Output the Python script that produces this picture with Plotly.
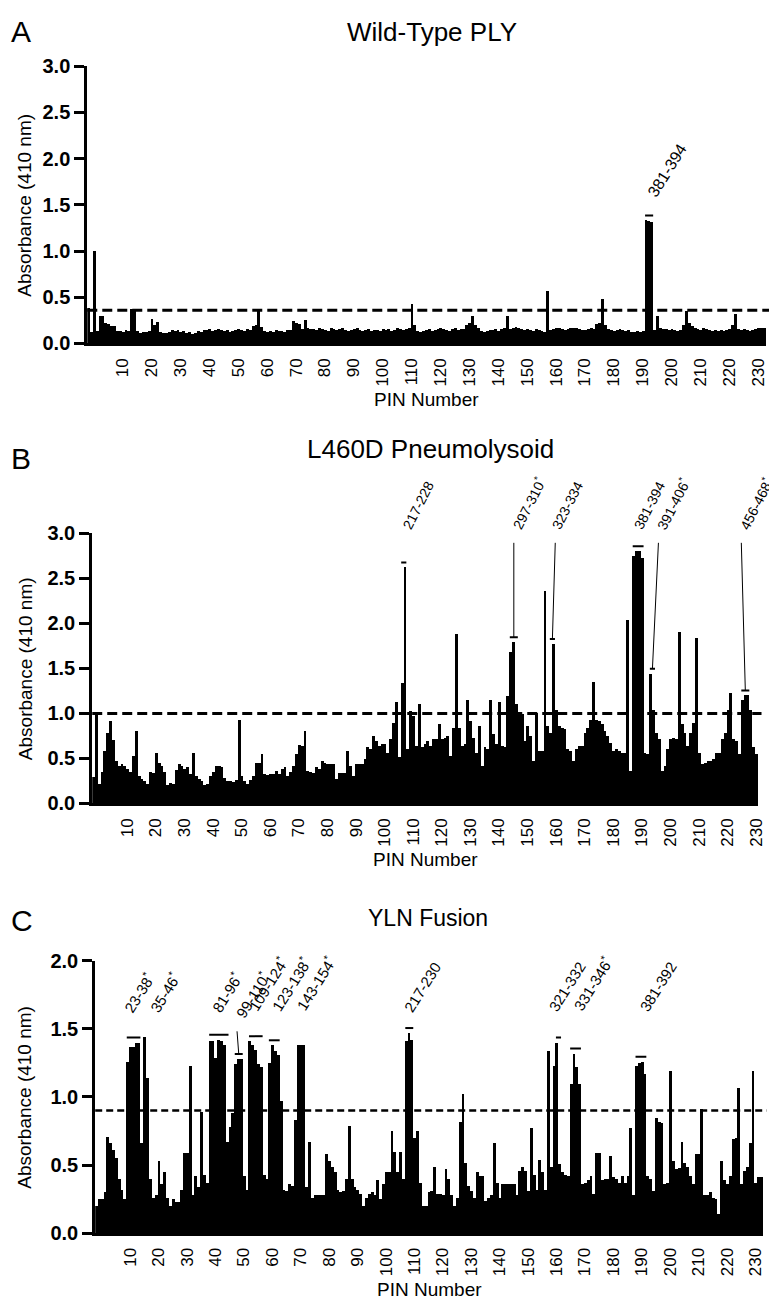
import plotly.graph_objects as go

W, H = 777, 1300
FONT = "Liberation Sans, Arial, sans-serif"

# ---------------- data ----------------
# absorbance (410 nm) per PIN, panel A: wild-type PLY
wild_type = [
    0.38, 0.12, 1.00, 0.13, 0.30, 0.29, 0.22, 0.21, 0.19, 0.19,
    0.13, 0.13, 0.12, 0.14, 0.13, 0.37, 0.36, 0.13, 0.11, 0.12,
    0.12, 0.13, 0.26, 0.20, 0.23, 0.12, 0.11, 0.11, 0.12, 0.14,
    0.13, 0.14, 0.12, 0.13, 0.11, 0.12, 0.10, 0.11, 0.13, 0.12,
    0.14, 0.14, 0.15, 0.13, 0.14, 0.15, 0.14, 0.13, 0.14, 0.12,
    0.13, 0.14, 0.15, 0.14, 0.13, 0.15, 0.14, 0.19, 0.20, 0.36,
    0.18, 0.13, 0.12, 0.13, 0.12, 0.14, 0.13, 0.13, 0.12, 0.14,
    0.14, 0.24, 0.22, 0.21, 0.15, 0.25, 0.16, 0.15, 0.15, 0.14,
    0.16, 0.15, 0.14, 0.13, 0.17, 0.15, 0.14, 0.15, 0.16, 0.14,
    0.13, 0.14, 0.15, 0.16, 0.14, 0.13, 0.14, 0.15, 0.13, 0.14,
    0.14, 0.13, 0.15, 0.14, 0.15, 0.13, 0.14, 0.16, 0.15, 0.14,
    0.15, 0.17, 0.42, 0.20, 0.13, 0.12, 0.13, 0.14, 0.15, 0.13,
    0.14, 0.15, 0.16, 0.15, 0.14, 0.13, 0.15, 0.16, 0.14, 0.15,
    0.15, 0.20, 0.22, 0.30, 0.20, 0.16, 0.13, 0.12, 0.13, 0.14,
    0.14, 0.15, 0.13, 0.15, 0.16, 0.29, 0.15, 0.16, 0.18, 0.16,
    0.15, 0.14, 0.15, 0.14, 0.13, 0.15, 0.14, 0.13, 0.12, 0.57,
    0.14, 0.15, 0.16, 0.17, 0.15, 0.14, 0.15, 0.16, 0.17, 0.16,
    0.15, 0.14, 0.14, 0.15, 0.16, 0.15, 0.21, 0.22, 0.48, 0.20,
    0.15, 0.14, 0.13, 0.14, 0.15, 0.14, 0.13, 0.14, 0.12, 0.12,
    0.13, 0.12, 0.13, 1.33, 1.32, 1.31, 0.14, 0.30, 0.16, 0.15,
    0.15, 0.14, 0.15, 0.14, 0.13, 0.14, 0.20, 0.35, 0.22, 0.19,
    0.16, 0.15, 0.14, 0.16, 0.15, 0.14, 0.13, 0.14, 0.13, 0.14,
    0.13, 0.14, 0.15, 0.20, 0.32, 0.15, 0.14, 0.15, 0.14, 0.13,
    0.14, 0.15, 0.16, 0.17, 0.16,
]

# panel B: L460D pneumolysoid
l460d = [
    0.29, 1.00, 0.22, 0.35, 0.58, 0.78, 0.91, 0.70, 0.47, 0.42,
    0.44, 0.42, 0.38, 0.35, 0.52, 0.80, 0.30, 0.27, 0.25, 0.22,
    0.35, 0.34, 0.56, 0.45, 0.42, 0.35, 0.20, 0.23, 0.22, 0.37,
    0.44, 0.42, 0.38, 0.40, 0.33, 0.56, 0.30, 0.27, 0.25, 0.20,
    0.22, 0.30, 0.35, 0.42, 0.41, 0.40, 0.28, 0.25, 0.25, 0.24,
    0.26, 0.93, 0.30, 0.25, 0.22, 0.26, 0.30, 0.45, 0.45, 0.55,
    0.33, 0.32, 0.33, 0.33, 0.36, 0.33, 0.38, 0.40, 0.30, 0.35,
    0.42, 0.55, 0.65, 0.64, 0.80, 0.36, 0.35, 0.34, 0.40, 0.38,
    0.47, 0.45, 0.44, 0.44, 0.44, 0.27, 0.34, 0.34, 0.34, 0.58,
    0.42, 0.30, 0.44, 0.44, 0.44, 0.49, 0.62, 0.60, 0.75, 0.69,
    0.64, 0.66, 0.66, 0.56, 0.71, 0.89, 1.13, 0.51, 1.33, 2.62,
    0.60, 1.02, 0.97, 0.64, 1.10, 0.62, 0.66, 0.69, 0.64, 0.71,
    0.71, 0.88, 0.71, 0.73, 0.75, 0.53, 0.84, 1.88, 0.84, 0.64,
    0.66, 1.15, 0.91, 0.73, 0.56, 0.86, 0.42, 0.62, 0.60, 1.15,
    0.77, 0.66, 1.13, 0.64, 0.62, 1.19, 1.68, 1.79, 1.10, 0.99,
    0.99, 0.69, 0.86, 0.75, 0.47, 1.00, 0.58, 0.58, 2.36, 0.86,
    0.78, 1.77, 1.04, 0.86, 0.84, 0.82, 0.60, 0.58, 0.47, 0.60,
    0.64, 0.64, 0.78, 0.84, 0.93, 1.35, 0.93, 0.91, 0.88, 0.80,
    0.75, 0.67, 0.58, 0.60, 0.58, 0.56, 0.56, 2.03, 0.36, 2.74,
    2.80, 2.80, 2.72, 0.56, 0.55, 1.44, 1.04, 0.78, 0.71, 0.36,
    0.42, 0.60, 0.71, 0.73, 0.71, 1.90, 0.88, 0.78, 0.64, 0.78,
    0.89, 1.83, 0.56, 0.44, 0.45, 0.47, 0.47, 0.49, 0.56, 0.56,
    0.71, 0.78, 1.04, 1.22, 0.71, 0.69, 0.55, 1.15, 1.20, 1.20,
    1.04, 0.62, 0.55,
]

# panel C: YLN fusion
yln_fusion = [
    0.20, 0.25, 0.25, 0.30, 0.71, 0.66, 0.61, 0.55, 0.40, 0.32,
    0.25, 1.26, 1.37, 1.37, 1.40, 1.40, 0.66, 1.44, 1.14, 0.40,
    0.26, 0.28, 0.53, 0.36, 0.45, 0.26, 0.20, 0.25, 0.23, 0.23,
    0.32, 0.59, 0.59, 1.23, 0.28, 0.42, 0.34, 0.89, 0.43, 0.37,
    1.41, 1.41, 1.29, 1.42, 1.41, 1.38, 0.67, 0.78, 0.88, 1.24,
    1.28, 1.28, 0.42, 0.32, 1.41, 1.38, 1.35, 1.24, 1.22, 0.43,
    0.40, 1.25, 1.38, 1.34, 1.31, 0.97, 0.32, 0.31, 0.36, 0.35,
    0.83, 1.38, 1.38, 1.38, 0.34, 0.67, 0.26, 0.28, 0.28, 0.28,
    0.28, 0.58, 0.53, 0.49, 0.45, 0.32, 0.30, 0.31, 0.40, 0.79,
    0.40, 0.34, 0.32, 0.29, 0.20, 0.26, 0.29, 0.30, 0.28, 0.39,
    0.25, 0.36, 0.45, 0.45, 0.75, 0.60, 0.45, 0.60, 0.40, 1.41,
    1.47, 1.42, 0.70, 0.75, 0.37, 0.20, 0.20, 0.30, 0.31, 0.49,
    0.29, 0.29, 0.28, 0.47, 0.40, 0.28, 0.20, 0.26, 0.82, 1.02,
    0.52, 0.35, 0.31, 0.26, 0.45, 0.42, 0.42, 0.24, 0.26, 0.28,
    0.66, 0.37, 0.26, 0.36, 0.36, 0.36, 0.36, 0.36, 0.28, 0.46,
    0.49, 0.46, 0.31, 0.77, 0.43, 0.32, 0.54, 0.45, 0.32, 1.34,
    0.49, 1.23, 1.40, 0.51, 0.45, 0.43, 0.42, 1.10, 1.32, 1.22,
    1.10, 0.36, 0.37, 0.39, 0.42, 0.29, 0.59, 0.59, 0.39, 0.40,
    0.40, 0.57, 0.41, 0.40, 0.37, 0.42, 0.37, 0.42, 0.77, 0.28,
    1.23, 1.25, 1.26, 1.17, 0.42, 0.40, 0.31, 0.85, 0.82, 0.81,
    0.36, 0.37, 1.19, 0.53, 0.47, 0.48, 0.67, 0.52, 0.49, 0.42,
    0.36, 0.58, 0.58, 0.91, 0.28, 0.28, 0.30, 0.26, 0.25, 0.14,
    0.53, 0.39, 0.36, 0.42, 0.69, 0.70, 1.07, 0.36, 0.46, 0.49,
    0.66, 1.19, 0.37, 0.41, 0.41,
]

cutoff_wild_type = 0.36
cutoff_l460d = 1.0
cutoff_yln = 0.9

pin_ticks = list(range(10, 231, 10))

# (label, pin where the label starts, label base height, first pin, last pin, leader line)
peaks_wild_type = [("381-394", 195.5, 1.52, 194, 196, False)]
peaks_l460d = [
    ("217-228", 110.3, 2.98, 109, 110, False),
    ("297-310<sup>*</sup>", 148.0, 2.98, 147, 149, True),
    ("323-334", 162.5, 2.98, 161, 162, True),
    ("381-394", 191.2, 2.98, 190, 193, False),
    ("391-406<sup>*</sup>", 198.6, 2.98, 196, 197, True),
    ("456-468<sup>*</sup>", 227.6, 2.98, 228, 230, True),
]
peaks_yln = [
    ("23-38<sup>*</sup>", 11.1, 1.58, 12, 16, False),
    ("35-46<sup>*</sup>", 20.1, 1.58, None, None, False),
    ("81-96<sup>*</sup>", 41.9, 1.58, 41, 47, False),
    ("99-110<sup>*</sup>", 50.4, 1.54, 50, 52, True),
    ("109-124<sup>*</sup>", 55.0, 1.59, 55, 59, False),
    ("123-138<sup>*</sup>", 63.2, 1.59, 62, 65, False),
    ("143-154<sup>*</sup>", 71.7, 1.59, None, None, False),
    ("217-230", 110.1, 1.58, 110, 112, False),
    ("321-332", 161.0, 1.59, 163, 164, False),
    ("331-346<sup>*</sup>", 169.2, 1.59, 168, 171, False),
    ("381-392", 193.0, 1.59, 191, 194, False),
]

# ---------------- layout of the three panels (pixels) ----------------
panels = [
    dict(letter="A", title="Wild-Type PLY", values=wild_type, cutoff=cutoff_wild_type,
         peaks=peaks_wild_type, box=(80, 765, 48, 330), ymax=3.0,
         title_xy=(428, 13), title_size=26, letter_y=13, dash=("10px,5px", 3),
         label_angle=-58, label_size=16),
    dict(letter="B", title="L460D Pneumolysoid", values=l460d, cutoff=cutoff_l460d,
         peaks=peaks_l460d, box=(85, 757, 523, 798), ymax=3.0,
         title_xy=(426, 437), title_size=26, letter_y=447, dash=("10px,5px", 3),
         label_angle=-63, label_size=14),
    dict(letter="C", title="YLN Fusion", values=yln_fusion, cutoff=cutoff_yln,
         peaks=peaks_yln, box=(88, 762, 958, 1235), ymax=2.0,
         title_xy=(424, 914), title_size=23, letter_y=917, dash=("7px,4px", 2.5),
         label_angle=-58, label_size=15),
]


def px(x):
    return x / W


def py(y):
    return 1 - y / H


fig = go.Figure()
annotations = []
shapes = []

for i, p in enumerate(panels, start=1):
    sfx = "" if i == 1 else str(i)
    xa, ya = "x" + sfx, "y" + sfx
    left, right, top, bottom = p["box"]
    vals = p["values"]
    n = len(vals)
    pins = list(range(1, n + 1))
    scale = (bottom - top) / p["ymax"]  # px per absorbance unit

    fig.add_trace(go.Bar(
        x=pins, y=vals, xaxis=xa, yaxis=ya, width=1.0,
        marker=dict(color="black", line=dict(width=0)),
        showlegend=False, hoverinfo="skip",
    ))

    fig.layout["xaxis" + sfx] = dict(
        domain=[px(left), px(right)], anchor=ya, range=[0.5, n + 0.5],
        tickmode="array", tickvals=pin_ticks, tickangle=-90, ticks="",
        ticklabelshift=8, ticklabelstandoff=5,
        showline=True, linecolor="black", linewidth=3,
        showgrid=False, zeroline=False,
        tickfont=dict(family=FONT, size=17, color="black"),
    )
    fig.layout["yaxis" + sfx] = dict(
        domain=[py(bottom), py(top)], anchor=xa, range=[0, p["ymax"]],
        tickmode="array", tickvals=[k * 0.5 for k in range(int(p["ymax"] * 2) + 1)],
        tickformat=".1f", ticks="outside", ticklen=10, tickwidth=3, tickcolor="black",
        showline=True, linecolor="black", linewidth=3,
        showgrid=False, zeroline=False,
        tickfont=dict(family=FONT, size=20, color="black", weight="bold"),
    )

    # cut-off line
    dash, lw = p["dash"]
    shapes.append(dict(type="line", xref=xa + " domain", yref=ya, x0=0, x1=1.005,
                       y0=p["cutoff"], y1=p["cutoff"],
                       line=dict(color="black", width=lw, dash=dash)))

    # panel letter, title, axis titles
    annotations += [
        dict(text=p["letter"], x=px(1), y=py(p["letter_y"]), xref="paper", yref="paper",
             xanchor="left", yanchor="middle", showarrow=False,
             font=dict(family=FONT, size=30, color="black")),
        dict(text=p["title"], x=px(p["title_xy"][0]), y=py(p["title_xy"][1]),
             xref="paper", yref="paper", xanchor="center", yanchor="middle",
             showarrow=False, font=dict(family=FONT, size=p["title_size"], color="black")),
        dict(text="Absorbance (410 nm)", x=px(17), y=py((top + bottom) / 2),
             xref="paper", yref="paper", xanchor="center", yanchor="middle",
             textangle=-90, showarrow=False, font=dict(family=FONT, size=19, color="black")),
        dict(text="PIN Number", x=px((left + right) / 2), y=py(bottom + 57),
             xref="paper", yref="paper", xanchor="center", yanchor="middle",
             showarrow=False, font=dict(family=FONT, size=19, color="black")),
    ]

    # peptide labels with their markers
    for text, lab_pin, lab_y, first, last, leader in p["peaks"]:
        annotations.append(dict(
            text=text, x=lab_pin, y=lab_y, xref=xa, yref=ya,
            xanchor="left", yanchor="bottom", xshift=-9, textangle=p["label_angle"],
            showarrow=False, font=dict(family=FONT, size=p["label_size"], color="black"),
        ))
        if first is None:
            continue
        top_val = max(vals[first - 1:last])
        mark_y = top_val + 5 / scale
        shapes.append(dict(type="line", xref=xa, yref=ya, x0=first - 0.4, x1=last + 0.4,
                           y0=mark_y, y1=mark_y, line=dict(color="black", width=2)))
        if leader:
            shapes.append(dict(type="line", xref=xa, yref=ya,
                               x0=lab_pin, x1=(first + last) / 2,
                               y0=lab_y - 8 / scale, y1=mark_y,
                               line=dict(color="black", width=1)))

fig.update_layout(
    width=W, height=H,
    margin=dict(l=0, r=0, t=0, b=0),
    paper_bgcolor="white", plot_bgcolor="white",
    bargap=0, showlegend=False,
    annotations=annotations, shapes=shapes,
    font=dict(family=FONT, color="black"),
)

fig.write_html("out.html")
